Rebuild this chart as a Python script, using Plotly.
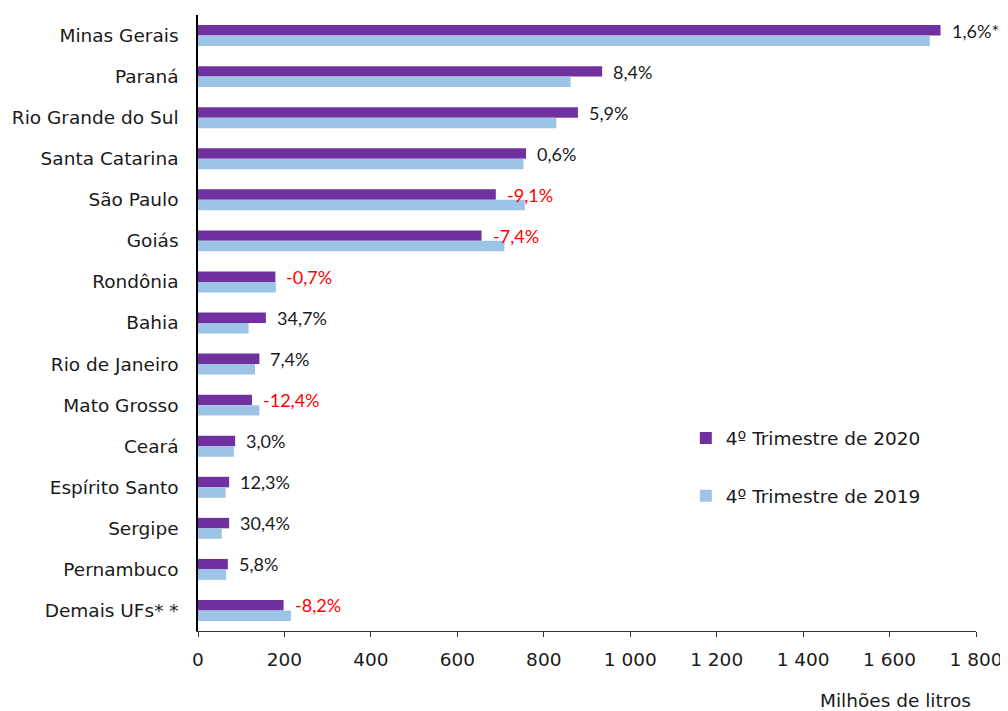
import plotly.graph_objects as go

states = ["Minas Gerais", "Paraná", "Rio Grande do Sul", "Santa Catarina", "São Paulo",
          "Goiás", "Rondônia", "Bahia", "Rio de Janeiro", "Mato Grosso", "Ceará",
          "Espírito Santo", "Sergipe", "Pernambuco", "Demais UFs* *"]
q4_2020 = [1718, 935, 879, 759, 689, 656, 179, 157, 142, 125, 86, 72, 72, 69, 198]
q4_2019 = [1693, 862, 829, 753, 756, 709, 180, 117, 132, 142, 83, 64, 55, 65, 215]
change_labels = ["1,6%*", "8,4%", "5,9%", "0,6%", "-9,1%", "-7,4%", "-0,7%", "34,7%",
                 "7,4%", "-12,4%", "3,0%", "12,3%", "30,4%", "5,8%", "-8,2%"]
x_ticks = [0, 200, 400, 600, 800, 1000, 1200, 1400, 1600, 1800]
x_tick_text = ["0", "200", "400", "600", "800", "1 000", "1 200", "1 400", "1 600", "1 800"]

PURPLE = "#7030A0"
BLUE = "#9DC3E6"
FONT = "DejaVu Sans"
TXT = "#1a1a1a"

fig = go.Figure()
fig.add_trace(go.Bar(y=states, x=q4_2020, orientation="h", name="4º Trimestre de 2020",
                     marker=dict(color=PURPLE, line=dict(width=0)), legend="legend",
                     showlegend=True))
fig.add_trace(go.Bar(y=states, x=q4_2019, orientation="h", name="4º Trimestre de 2019",
                     marker=dict(color=BLUE, line=dict(width=0)), legend="legend2",
                     showlegend=True))

for s, v, lab in zip(states, q4_2020, change_labels):
    col = "#FF0000" if lab.startswith("-") else TXT
    fig.add_annotation(x=v, y=s, text=lab, showarrow=False, xanchor="left", yanchor="middle",
                       xshift=9, yshift=5, font=dict(family="Lato", size=18, color=col))

fig.add_annotation(x=0.996, xref="paper", y=-0.1125, yref="paper", text="Milhões de litros",
                   showarrow=False, xanchor="right", yanchor="middle",
                   font=dict(family=FONT, size=18.5, color=TXT))

legend_common = dict(xanchor="left", yanchor="middle", bgcolor="rgba(0,0,0,0)",
                     font=dict(family=FONT, size=18.5, color=TXT),
                     itemwidth=30, tracegroupgap=0, visible=True)

fig.update_layout(
    width=1000, height=703,
    margin=dict(l=190.3, r=32, t=6.5, b=80.3, autoexpand=False),
    paper_bgcolor="white", plot_bgcolor="white", showlegend=True,
    barmode="group", bargap=0.49, bargroupgap=0,
    legend=dict(x=0.627, y=0.3127, **legend_common),
    legend2=dict(x=0.627, y=0.2186, **legend_common),
    xaxis=dict(range=[0, 1800], tickvals=x_ticks, ticktext=x_tick_text, automargin=False,
               showgrid=False, zeroline=False, showline=True, linecolor="#333333",
               linewidth=1, ticks="outside", ticklen=5, tickcolor="#333333",
               ticklabelstandoff=7, ticklabeloverflow="allow",
               tickfont=dict(family=FONT, size=18.5, color=TXT)),
    yaxis=dict(autorange="reversed", showgrid=False, zeroline=False, showline=True,
               automargin=False,
               linecolor="black", linewidth=1.5, ticks="", ticklabelstandoff=14,
               tickfont=dict(family=FONT, size=18.5, color=TXT)),
)

fig.write_html("out.html")
